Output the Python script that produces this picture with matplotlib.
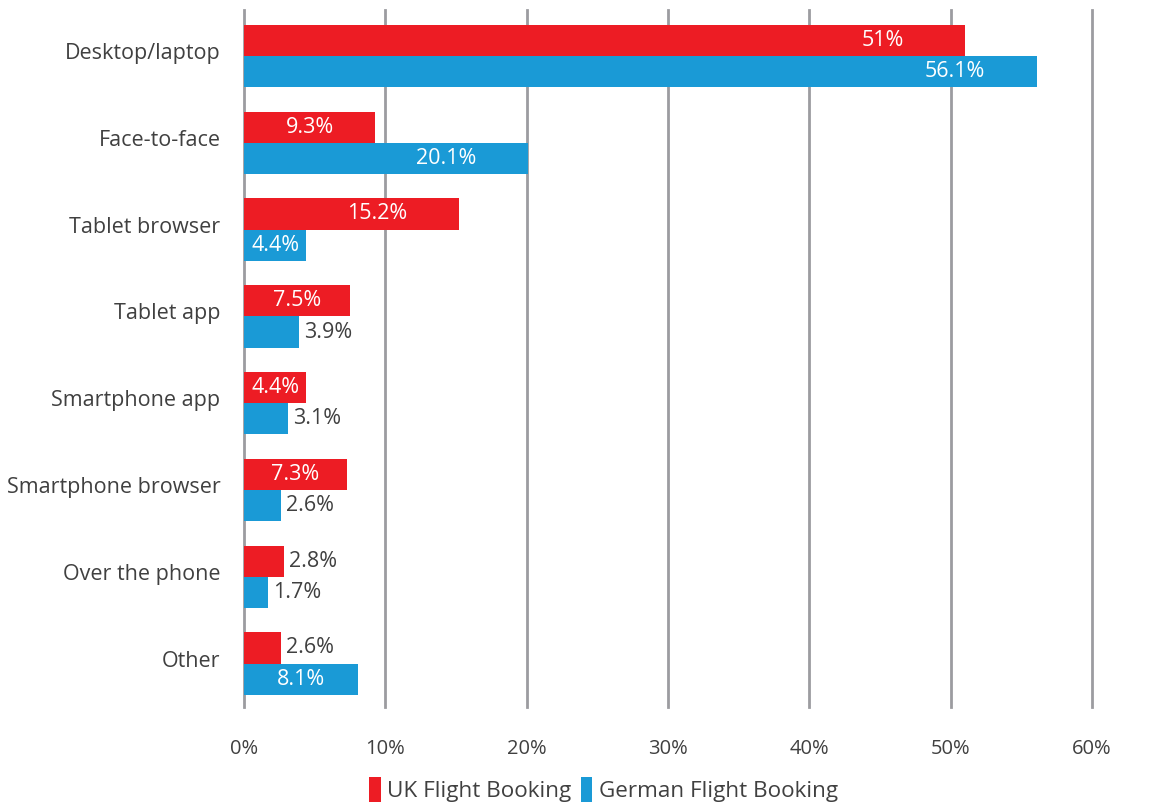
import numpy as np
import matplotlib
matplotlib.use("Agg")
import matplotlib.pyplot as plt
from matplotlib.transforms import ScaledTranslation

plt.rcParams['font.family'] = ['Open Sans', 'DejaVu Sans']

categories = ["Desktop/laptop", "Face-to-face", "Tablet browser", "Tablet app",
              "Smartphone app", "Smartphone browser", "Over the phone", "Other"]
uk_values = [51, 9.3, 15.2, 7.5, 4.4, 7.3, 2.8, 2.6]
de_values = [56.1, 20.1, 4.4, 3.9, 3.1, 2.6, 1.7, 8.1]
uk_labels = ["51%", "9.3%", "15.2%", "7.5%", "4.4%", "7.3%", "2.8%", "2.6%"]
de_labels = ["56.1%", "20.1%", "4.4%", "3.9%", "3.1%", "2.6%", "1.7%", "8.1%"]
xtick_vals = [0, 10, 20, 30, 40, 50, 60]
xtick_labels = ["0%", "10%", "20%", "30%", "40%", "50%", "60%"]

red = "#ED1C24"
blue = "#1A9AD6"
text_col = "#404040"

fig = plt.figure(figsize=(11.63, 8.02), dpi=100)
ax = fig.add_axes([0.2098, 0.1185, 0.7292, 0.869])

y = np.arange(len(categories))
h = 0.36
ax.barh(y - h / 2, uk_values, height=h, color=red, label="UK Flight Booking", zorder=3)
ax.barh(y + h / 2, de_values, height=h, color=blue, label="German Flight Booking", zorder=3)


def put_labels(vals, labs, offs):
    for yi, v, lab in zip(y, vals, labs):
        if v >= 4:
            xc = max(v / 2, v - 5.8)
            ax.text(xc, yi + offs, lab, ha='center', va='center', color='white',
                    fontsize=15.5, zorder=4)
        else:
            ax.text(v + 0.35, yi + offs, lab, ha='left', va='center', color=text_col,
                    fontsize=15.5, zorder=4)


put_labels(uk_values, uk_labels, -h / 2)
put_labels(de_values, de_labels, h / 2)

ax.set_xlim(0, 60)
ax.set_ylim(7.5, -0.53)
ax.set_yticks(y)
ax.set_yticklabels(categories, fontsize=15.5, color=text_col)
ax.set_xticks(xtick_vals)
ax.set_xticklabels(xtick_labels, fontsize=14.5, color=text_col)
ax.tick_params(axis='y', length=0, pad=17)
ax.tick_params(axis='x', length=0, pad=23)
up = ScaledTranslation(0, 0.05, fig.dpi_scale_trans)
for lbl in ax.get_yticklabels():
    lbl.set_transform(lbl.get_transform() + up)
for s in ax.spines.values():
    s.set_visible(False)
ax.grid(axis='x', color='#9C9CA0', linewidth=2, zorder=0)
for gl in ax.get_xgridlines():
    gl.set_clip_on(False)
ax.set_axisbelow(True)

fig.legend(loc='lower center', bbox_to_anchor=(0.519, -0.026), ncol=2, frameon=False,
           fontsize=16.2, handlelength=0.5, handleheight=1.35, handletextpad=0.3,
           columnspacing=0.4, labelcolor=text_col)

fig.savefig("out.png", dpi=100)
